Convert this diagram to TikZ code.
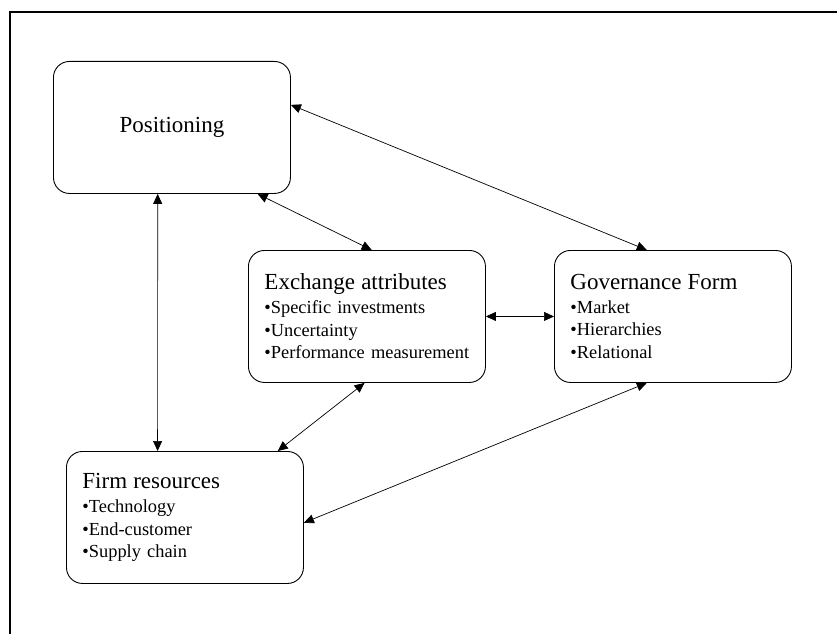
\documentclass[tikz,border=0pt]{standalone}
\usepackage{fontspec}
\setmainfont{Liberation Serif}
\usetikzlibrary{arrows.meta,calc}

\newcommand{\headfont}{\fontsize{23}{24}\selectfont}
\newcommand{\itemfont}{\fontsize{18.4}{22.5}\selectfont}

\tikzset{
  box/.style={draw, line width=0.9pt, rounded corners=16pt,
    minimum width=237pt, minimum height=132pt, anchor=north west},
  listbox/.style={box, align=left, inner xsep=16pt, text width=205pt,
    font=\itemfont},
  link/.style={{Triangle[length=10pt,width=9pt]}-{Triangle[length=10pt,width=9pt]},
    line width=0.7pt},
}

\begin{document}
\begin{tikzpicture}[x=1pt,y=-1pt]
      \useasboundingbox (0,0) rectangle (837,634);
      % frame (only top and left edges)
      \draw[line width=2pt] (837,12) -- (10,12) -- (10,634);

      \node[box, font=\headfont] (pos) at (53,61) {Positioning};
      \node[listbox] (exch) at (248,250)
        {{\headfont Exchange attributes}\\[1.5pt]
         •Specific investments\\ •Uncertainty\\ •Performance measurement};
      \node[listbox] (gov) at (554,250)
        {{\headfont Governance Form}\\[1.5pt]
         •Market\\ •Hierarchies\\ •Relational};
      \node[listbox] (firm) at (66,451)
        {{\headfont Firm resources}\\[1.5pt]
         •Technology\\ •End-customer\\ •Supply chain};

      \draw[link] ($(pos.south west)!0.44!(pos.south east)$)
        -- ($(firm.north west)!0.385!(firm.north east)$);
      \draw[link] ($(pos.south west)!0.86!(pos.south east)$)
        -- ($(exch.north west)!0.52!(exch.north east)$);
      \draw[link] ($(pos.north east)!0.33!(pos.south east)$)
        -- ($(gov.north west)!0.39!(gov.north east)$);
      \draw[link] (exch.east) -- (gov.west);
      \draw[link] ($(exch.south west)!0.49!(exch.south east)$)
        -- ($(firm.north west)!0.89!(firm.north east)$);
      \draw[link] ($(gov.south west)!0.39!(gov.south east)$)
        -- ($(firm.north east)!0.54!(firm.south east)$);
\end{tikzpicture}
\end{document}
